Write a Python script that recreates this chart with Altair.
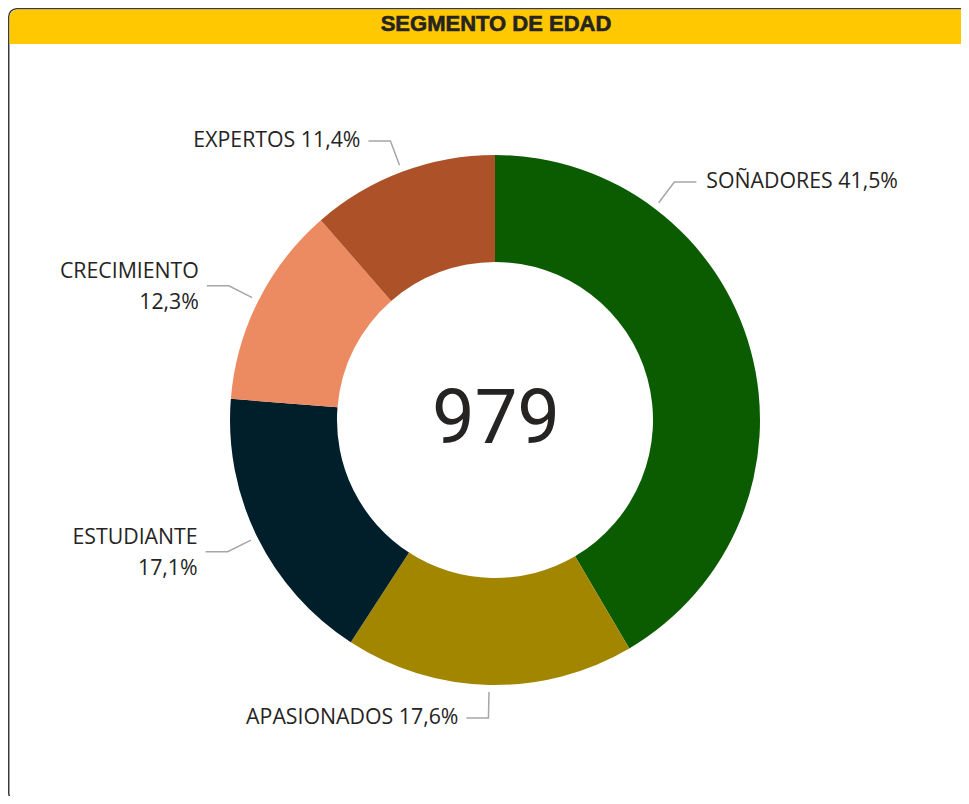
import numpy as np
import pandas as pd
import altair as alt

# ---- data -------------------------------------------------------------
segments = ["SOÑADORES", "APASIONADOS", "ESTUDIANTE", "CRECIMIENTO", "EXPERTOS"]
pcts = [41.5, 17.6, 17.1, 12.3, 11.4]
colors = ["#0b5c00", "#a38600", "#001f2b", "#ec8b62", "#ad5228"]
total = 979
title = "SEGMENTO DE EDAD"
wrapped = ["CRECIMIENTO", "ESTUDIANTE"]   # labels shown on two lines

# ---- layout -----------------------------------------------------------
W, H = 953, 788
CX, CY = 487, 412
R_OUT, R_IN = 265, 158
R_L0, R_L1 = 272, 298     # leader line start / elbow radius
HSEG = 22
GAP_L, GAP_R = 8, 10
FONT = "Open Sans"
FS = 21.3
LH = 31
TXT = "#252423"

frac = np.array(pcts) / sum(pcts)
cum = np.cumsum(frac)
mid_deg = (cum - frac / 2) * 360.0
label_deg = mid_deg.copy()
label_deg[0] = 37.0        # leader of the big slice sits higher up (as in the report)

base = pd.DataFrame({"seg": segments, "pct": pcts, "idx": range(len(segments))})

lead_rows, lab_rows = [], []
for s, p, a in zip(segments, pcts, label_deg):
    t = np.radians(a)
    x0, y0 = CX + R_L0 * np.sin(t), CY - R_L0 * np.cos(t)
    x1, y1 = CX + R_L1 * np.sin(t), CY - R_L1 * np.cos(t)
    right = np.sin(t) > 0
    x2 = x1 + (HSEG if right else -HSEG)
    for k, (xx, yy) in enumerate([(x0, y0), (x1, y1), (x2, y1)]):
        lead_rows.append({"seg": s, "k": k, "x": xx, "y": yy})
    pct_txt = f"{p:.1f}%".replace(".", ",")
    two = s in wrapped
    txt = f"{s}\n{pct_txt}" if two else f"{s} {pct_txt}"
    lab_rows.append({"seg": s, "x": x2 + (GAP_R if right else -GAP_L),
                     "y": y1 - (LH / 2 - 2 if two else 0),
                     "txt": txt, "side": "R" if right else "L"})
leads = pd.DataFrame(lead_rows)
labs = pd.DataFrame(lab_rows)

# ---- card -------------------------------------------------------------
card = alt.Chart(pd.DataFrame({"a": [0]})).mark_rect(
    fill="white", stroke="#3b3a39", strokeWidth=1.5, cornerRadius=8
).encode(x=alt.value(0.75), x2=alt.value(1010), y=alt.value(0.75), y2=alt.value(793))

bar = alt.Chart(pd.DataFrame({"a": [0]})).mark_rect(
    fill="#ffc800", cornerRadiusTopLeft=8
).encode(x=alt.value(1.5), x2=alt.value(1010), y=alt.value(1.5), y2=alt.value(36))

ttl = alt.Chart(pd.DataFrame({"t": [title]})).mark_text(
    font="Liberation Sans", fontWeight="bold", stroke=TXT, strokeWidth=0.6,
    fontSize=22, color=TXT, baseline="middle", align="center"
).encode(text="t:N", x=alt.value(488), y=alt.value(16))

# ---- donut ------------------------------------------------------------
arcs = alt.Chart(base).mark_arc(radius=R_OUT, radius2=R_IN).encode(
    theta=alt.Theta("pct:Q", stack=True),
    order=alt.Order("idx:Q"),
    color=alt.Color("seg:N", scale=alt.Scale(domain=segments, range=colors), legend=None),
    x=alt.value(CX), y=alt.value(CY),
)

center = alt.Chart(pd.DataFrame({"t": [str(total)]})).mark_text(
    font="Roboto", fontSize=76, color=TXT, baseline="middle", align="center"
).encode(text="t:N", x=alt.value(CX + 1), y=alt.value(CY))

lines = alt.Chart(leads).mark_line(color="#a6a6a6", strokeWidth=1.5).encode(
    x=alt.X("x:Q", scale=None), y=alt.Y("y:Q", scale=None),
    detail="seg:N", order="k:Q",
)

lab_r = alt.Chart(labs).transform_filter(alt.datum.side == "R").mark_text(
    font=FONT, fontSize=FS, color=TXT, align="left", baseline="middle",
    lineBreak="\n", lineHeight=LH
).encode(x=alt.X("x:Q", scale=None), y=alt.Y("y:Q", scale=None), text="txt:N")

lab_l = alt.Chart(labs).transform_filter(alt.datum.side == "L").mark_text(
    font=FONT, fontSize=FS, color=TXT, align="right", baseline="middle",
    lineBreak="\n", lineHeight=LH
).encode(x=alt.X("x:Q", scale=None), y=alt.Y("y:Q", scale=None), text="txt:N")

chart = alt.layer(card, bar, ttl, arcs, center, lines, lab_r, lab_l).properties(
    width=W, height=H, padding=0, autosize=alt.AutoSizeParams(type="none")
).configure_view(stroke=None)

chart.save("out.html", embed_options={"renderer": "svg", "actions": False})
